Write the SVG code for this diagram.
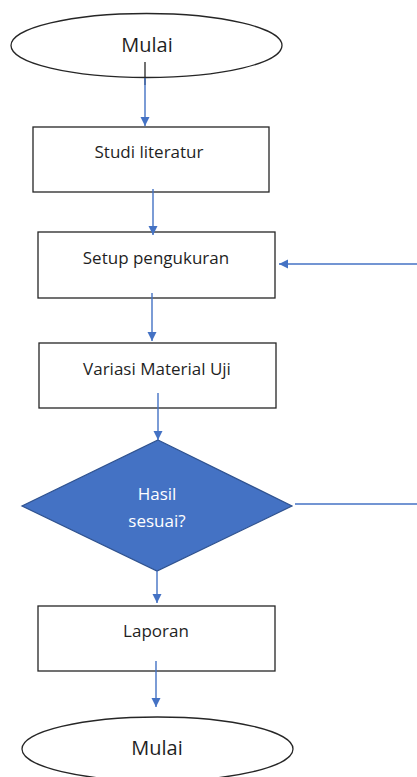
<svg xmlns="http://www.w3.org/2000/svg" width="417" height="777" viewBox="0 0 417 777">
<style>
.box{fill:#fff;stroke:#262626;stroke-width:1.3}
.t{font-family:"Open Sans","Noto Sans",sans-serif;fill:#1f1f1f;text-anchor:middle}
.c{stroke:#4472C4;stroke-width:1.4;fill:none}
</style>
<defs>
<marker id="ah" viewBox="0 0 10 10" refX="10" refY="5" markerWidth="9" markerHeight="10" markerUnits="userSpaceOnUse" orient="auto">
<path d="M0,0 L10,5 L0,10 z" fill="#4472C4"/>
</marker>
</defs>
<rect width="417" height="777" fill="#fff"/>
<g id="start">
<ellipse class="box" cx="146.5" cy="45.5" rx="135.5" ry="32"/>
<text class="t" x="147" y="52" font-size="20">Mulai</text>
</g>
<g id="studi">
<rect class="box" x="33" y="127" width="236" height="65"/>
<text class="t" x="149" y="158" font-size="17">Studi literatur</text>
</g>
<g id="setup">
<rect class="box" x="38" y="232" width="237" height="66"/>
<text class="t" x="156" y="264" font-size="17">Setup pengukuran</text>
</g>
<g id="variasi">
<rect class="box" x="39" y="343" width="237" height="65"/>
<text class="t" x="157" y="375" font-size="17">Variasi Material Uji</text>
</g>
<g id="decision">
<polygon points="158,440 292,506 157,571 22,506" fill="#4472C4" stroke="#2F528F" stroke-width="1.2"/>
<text class="t" x="157" y="500" font-size="17" style="fill:#fff">Hasil</text>
<text class="t" x="157" y="527" font-size="17" style="fill:#fff">sesuai?</text>
</g>
<g id="laporan">
<rect class="box" x="38" y="606" width="237" height="65"/>
<text class="t" x="156" y="637" font-size="17">Laporan</text>
</g>
<g id="end">
<ellipse class="box" cx="157.5" cy="749" rx="135.5" ry="32"/>
<text class="t" x="157" y="755" font-size="20">Mulai</text>
</g>
<g id="connectors">
<line x1="145" y1="62" x2="145" y2="85" stroke="#262626" stroke-width="1.3"/>
<line class="c" x1="145" y1="78" x2="145" y2="126" marker-end="url(#ah)"/>
<line class="c" x1="153" y1="189" x2="153" y2="235" marker-end="url(#ah)"/>
<line class="c" x1="152" y1="293" x2="152" y2="341" marker-end="url(#ah)"/>
<line class="c" x1="417" y1="264" x2="279" y2="264" marker-end="url(#ah)"/>
<line class="c" x1="158" y1="393" x2="158" y2="440" marker-end="url(#ah)"/>
<line class="c" x1="295" y1="504" x2="417" y2="504"/>
<line class="c" x1="157" y1="571" x2="157" y2="603" marker-end="url(#ah)"/>
<line class="c" x1="156" y1="661" x2="156" y2="707" marker-end="url(#ah)"/>
</g>
</svg>
